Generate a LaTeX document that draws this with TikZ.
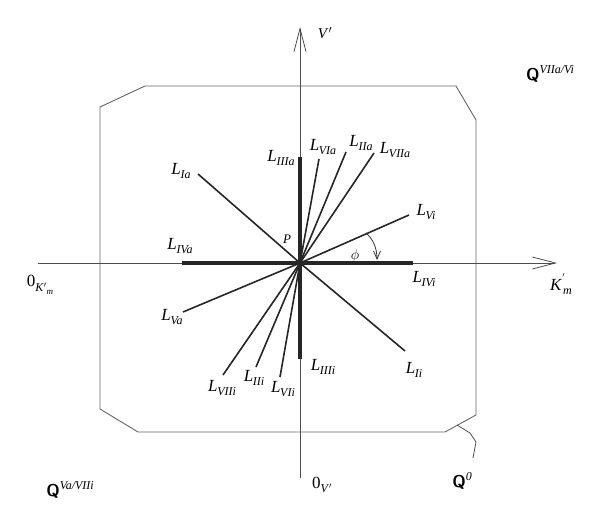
\documentclass[tikz,border=0pt]{standalone}
\usepackage{fontspec}
\setmainfont{Liberation Serif}
\usetikzlibrary{arrows.meta}
\newcommand\Lb[1]{\textit{L}\kern-0.3pt\raisebox{-0.5ex}{\fontsize{12}{12}\selectfont\textit{#1}}}
\newcommand\Qb[1]{\textbf{\sffamily Q}\raisebox{0.9ex}{\fontsize{12}{12}\selectfont\textit{#1}}}
\begin{document}
\begin{tikzpicture}[x=1pt,y=-1pt,
  font=\fontsize{17}{19}\selectfont,
  axis/.style={draw=black!70, line width=0.8pt},
  axarrow/.style={-{Straight Barb[length=23pt,width=12pt,line width=0.8pt]}},
  frame/.style={draw=black!60, line width=0.9pt},
  ray/.style={draw=black!85, line width=1.6pt},
  heavyray/.style={draw=black!85, line width=3.4pt},
  lbl/.style={inner sep=0pt}]
\useasboundingbox (0,0) rectangle (600,518);
% frame
\draw[frame] (145,86) -- (456,86) -- (476,120) -- (476,415) -- (445,432) -- (138,432) -- (100,409) -- (100,107) -- cycle;
% axes
\coordinate (P) at (300,263);
\coordinate (xl) at (38,263);
\coordinate (xr) at (557,263);
\coordinate (yb) at (300,478);
\coordinate (yt) at (300,27);
\draw[axis,axarrow] (xl) -- (xr);
\draw[axis,axarrow] (yb) -- (yt);
% ray end points
\coordinate (Ia) at (198,174);
\coordinate (IVa) at (182,263);
\coordinate (IIIa) at (300,157);
\coordinate (VIa) at (319,159);
\coordinate (IIa) at (346,152);
\coordinate (VIIa) at (374,153);
\coordinate (Vi) at (409,215);
\coordinate (IVi) at (413,263);
\coordinate (Va) at (183,312);
\coordinate (VIIi) at (223,375);
\coordinate (IIi) at (256,367);
\coordinate (VIi) at (280,377);
\coordinate (IIIi) at (300,359);
\coordinate (Ii) at (405,351);
% rays
\foreach \e in {Ia,VIa,IIa,VIIa,Vi,Va,VIIi,IIi,VIi,Ii}
  \draw[ray] (P) -- (\e);
\foreach \e in {IVa,IIIa,IVi,IIIi}
  \draw[heavyray] (P) -- (\e);
% angle phi
\coordinate (phiA) at (366,233);
\coordinate (phiB) at (377,260);
\draw[draw=black!80, line width=0.8pt, -{Straight Barb[length=8pt,width=7pt,line width=0.8pt]}] (phiA) .. controls (373,239) and (377,248) .. (phiB);
\node[lbl] (phi) at (355,256) {\fontsize{14}{14}\selectfont$\phi$};
% labels
\node[lbl] (lIa) at (181,171) {\Lb{Ia}};
\node[lbl] (lIVa) at (180,246) {\Lb{IVa}};
\node[lbl] (lIIIa) at (281,158) {\Lb{IIIa}};
\node[lbl] (lVIa) at (323,147) {\Lb{VIa}};
\node[lbl] (lIIa) at (361,143) {\Lb{IIa}};
\node[lbl] (lVIIa) at (395,150) {\Lb{VIIa}};
\node[lbl] (lVi) at (426,212) {\Lb{Vi}};
\node[lbl] (lIVi) at (424,279) {\Lb{IVi}};
\node[lbl] (lP) at (287,239) {\fontsize{13}{13}\selectfont\textit{P}};
\node[lbl] (lVa) at (172,317) {\Lb{Va}};
\node[lbl] (lVIIi) at (222,388) {\Lb{VIIi}};
\node[lbl] (lIIi) at (254,378) {\Lb{IIi}};
\node[lbl] (lVIi) at (283,389) {\Lb{VIi}};
\node[lbl] (lIIIi) at (323,367) {\Lb{IIIi}};
\node[lbl] (lIi) at (414,370) {\Lb{Ii}};
% axis labels
\node[lbl] (lV) at (325,33) {\fontsize{15}{15}\selectfont\textit{V}$'$};
\node[lbl] (lK) at (561,284) {\textit{K}\raisebox{1.2ex}{\fontsize{10}{10}\selectfont$'$}\kern-2pt\raisebox{-0.6ex}{\fontsize{12}{12}\selectfont\textit{m}}};
\node[lbl] (l0K) at (40,285) {0\raisebox{-0.6ex}{\fontsize{12}{12}\selectfont\textit{K}$'$\raisebox{-0.5ex}{\fontsize{9}{9}\selectfont\textit{m}}}};
\node[lbl] (l0V) at (322,485) {0\raisebox{-0.6ex}{\fontsize{12}{12}\selectfont\textit{V}$'$}};
% Q labels
\node[lbl] (q1) at (550,74) {\Qb{VIIa/Vi}};
\node[lbl] (q2) at (70,490) {\Qb{Va/VIIi}};
\node[lbl] (q0) at (462,481) {\Qb{0}};
\coordinate (qs) at (457,425);
\draw[draw=black!70, line width=0.8pt] (qs) -- (470,433) -- (476,442) -- (473,458);
\end{tikzpicture}
\end{document}
